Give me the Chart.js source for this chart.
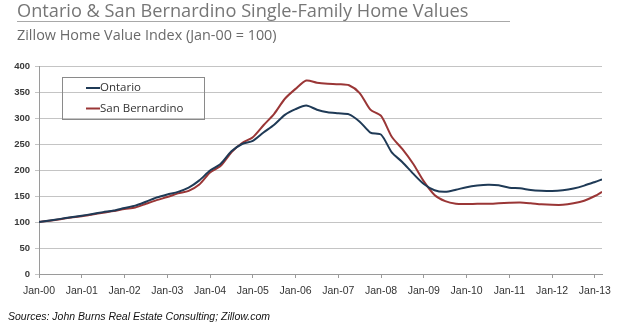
<!DOCTYPE html>
<html>
<head>
<meta charset="utf-8">
<script src="https://cdn.jsdelivr.net/npm/chart.js@4.4.1/dist/chart.umd.min.js"></script>
<style>
  body { margin: 0; width: 620px; height: 331px; overflow: hidden; background: #fff; position: relative; }
  #chart { position: absolute; left: 0; top: 0; }
  .txt { position: absolute; white-space: nowrap; }
  #title { left: 17px; top: 0.5px; font: 18.2px/18.2px 'Open Sans', sans-serif; color: #767676; }
  #rule { position: absolute; left: 17px; top: 20.5px; width: 493px; height: 0; border-top: 1.5px solid #a8a8a8; }
  #subtitle { left: 17px; top: 28px; font: 14.4px/14.4px 'Open Sans', sans-serif; color: #6a6a6a; }
  #source { left: 8px; top: 311px; font: italic 10.5px/10.5px 'Liberation Sans', Arial, sans-serif; color: #111; }
</style>
</head>
<body>
<canvas id="chart" width="620" height="331"></canvas>
<div class="txt" id="title">Ontario &amp; San Bernardino Single-Family Home Values</div>
<div id="rule"></div>
<div class="txt" id="subtitle">Zillow Home Value Index (Jan-00 = 100)</div>
<div class="txt" id="source">Sources: John Burns Real Estate Consulting; Zillow.com</div>
<script>
// months since Jan-2000
const months = [0, 3, 6, 9, 12, 15, 18, 21, 24, 27, 30, 33, 36, 39, 42, 45, 48, 51, 54, 57,
  60, 63, 66, 69, 72, 75, 78, 81, 84, 87, 90, 93, 96, 99, 102, 105, 108, 111, 114, 117,
  120, 123, 126, 129, 132, 135, 138, 141, 144, 147, 150, 153, 156, 158];

const ontario = [100, 103, 106, 109, 112, 115.5, 119, 122, 127, 131.5, 139, 147, 153, 158, 166, 180, 199, 212, 236, 250,
  256, 272, 287, 306, 317, 324, 316, 311, 309, 307, 293, 272, 268, 234, 215, 193, 173, 161, 158, 162,
  167, 170, 171.5, 170.5, 166, 165, 161.5, 160, 159.5, 161, 164.5, 170, 177, 182];

const sanBernardino = [100, 102.5, 105.5, 108.5, 111, 114.5, 118, 121, 125, 128, 135, 142, 148, 155, 160, 172, 195, 208, 234, 252,
  263, 286, 308, 337, 356, 372, 368, 366, 365, 363, 348, 316, 304, 264, 240, 212, 178, 152, 140, 135,
  134.5, 135, 135, 136, 137, 137.5, 136, 134, 133, 133, 136, 141, 150, 158];

const yearTicks = [0, 12, 24, 36, 48, 60, 72, 84, 96, 108, 120, 132, 144, 156];
const xLabels = ['Jan-00', 'Jan-01', 'Jan-02', 'Jan-03', 'Jan-04', 'Jan-05', 'Jan-06',
  'Jan-07', 'Jan-08', 'Jan-09', 'Jan-10', 'Jan-11', 'Jan-12', 'Jan-13'];

const toPoints = (vals) => vals.map((v, i) => ({ x: months[i], y: v }));

// legend box sitting inside the plot, like the excel one
const boxLegend = {
  id: 'boxLegend',
  afterDraw(chart) {
    const c = chart.ctx;
    c.save();
    c.strokeStyle = '#8a8a8a';
    c.lineWidth = 1;
    c.strokeRect(62.5, 77.5, 142, 42);
    chart.data.datasets.forEach((ds, i) => {
      const y = 88 + i * 20.5;
      c.strokeStyle = ds.borderColor;
      c.lineWidth = 2;
      c.beginPath();
      c.moveTo(86, y);
      c.lineTo(100, y);
      c.stroke();
      c.fillStyle = '#333';
      c.font = '11.5px "Open Sans", sans-serif';
      c.textBaseline = 'middle';
      c.fillText(ds.label, 100, y);
    });
    c.restore();
  }
};

const ctx = document.querySelector('#chart').getContext('2d');
const chart = new Chart(ctx, {
  type: 'line',
  data: {
    datasets: [{
      label: 'Ontario',
      data: toPoints(ontario),
      borderColor: '#1f3a56',
      borderWidth: 2,
      pointRadius: 0,
      tension: 0.25,
      fill: false
    }, {
      label: 'San Bernardino',
      data: toPoints(sanBernardino),
      borderColor: '#9a3636',
      borderWidth: 2,
      pointRadius: 0,
      tension: 0.25,
      fill: false
    }]
  },
  options: {
    responsive: false,
    animation: false,
    layout: { padding: { top: 66, right: 18, bottom: 37, left: 0 } },
    plugins: {
      legend: { display: false },
      tooltip: { enabled: false }
    },
    scales: {
      x: {
        type: 'linear',
        min: 0,
        max: 158,
        afterBuildTicks: (s) => { s.ticks = yearTicks.map(v => ({ value: v })); },
        afterFit: (s) => { s.height = 20; },
        grid: { drawOnChartArea: false, drawTicks: true, tickLength: 4, color: '#9a9a9a' },
        border: { color: '#9a9a9a' },
        ticks: {
          autoSkip: false,
          maxRotation: 0,
          padding: 7,
          color: '#333',
          font: { family: 'Liberation Sans', size: 10.5 },
          callback: (v) => xLabels[yearTicks.indexOf(v)]
        }
      },
      y: {
        min: 0,
        max: 400,
        afterFit: (s) => { s.width = 39; },
        grid: { color: '#c4c4c4', tickLength: 4 },
        border: { color: '#9a9a9a' },
        ticks: {
          stepSize: 50,
          padding: 5,
          color: '#3a3a3a',
          font: { family: 'Liberation Sans', size: 9.5, weight: 'bold' }
        }
      }
    }
  },
  plugins: [boxLegend]
});
</script>
</body>
</html>
